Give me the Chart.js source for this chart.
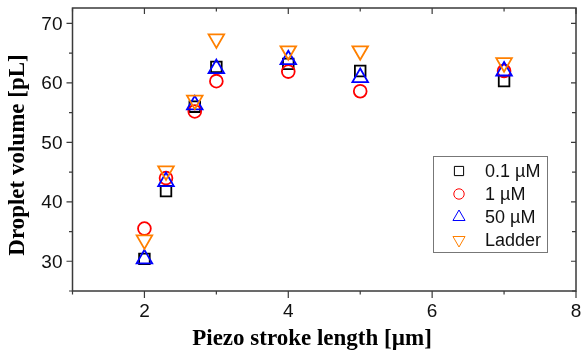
<!DOCTYPE html>
<html>
<head>
<meta charset="utf-8">
<script src="https://cdn.jsdelivr.net/npm/chart.js@4/dist/chart.umd.min.js"></script>
<style>
  html, body { margin: 0; padding: 0; background: #fff; }
  canvas { display: block; }
</style>
</head>
<body>
<canvas id="chart" width="582" height="352"></canvas>
<script>
// piezo stroke length [µm]
var strokeLength = [2, 2.3, 2.7, 3, 4, 5, 7];

var series01uM = [30.4, 41.8, 56.0, 62.7, 63.2, 62.0, 60.3];
var series1uM = [35.5, 44.0, 55.2, 60.3, 61.9, 58.6, 62.0];
var series50uM = [30.4, 43.4, 56.3, 62.4, 63.9, 60.9, 62.0];
var seriesLadder = [33.6, 45.2, 57.1, 67.4, 65.4, 65.4, 63.4];

var seriesNames = ["0.1 µM", "1 µM", "50 µM", "Ladder"];
var xTickValues = [2, 4, 6, 8];
var yTickValues = [30, 40, 50, 60, 70];

var toPoints = (ys) => ys.map((y, i) => ({ x: strokeLength[i], y: y }));

var frameColor = "#3a3a3a";
var tickFont = "19px 'Liberation Sans', Arial, sans-serif";

// frame with mirrored ticks and tick labels, like the Origin plot
const framePlugin = {
  id: "frame",
  beforeDatasetsDraw(chart) {
    const { ctx, chartArea: a, scales } = chart;
    const xs = scales.x;
    const ys = scales.y;
    ctx.save();
    ctx.strokeStyle = frameColor;
    ctx.lineWidth = 1.5;
    ctx.strokeRect(a.left, a.top, a.right - a.left, a.bottom - a.top);
    ctx.lineWidth = 1.2;
    ctx.beginPath();
    for (let v = 1; v <= 8; v++) {
      const px = xs.getPixelForValue(v);
      const major = v % 2 === 0;
      ctx.moveTo(px, a.bottom);
      ctx.lineTo(px, a.bottom + (major ? 7 : 3.5));
      ctx.moveTo(px, a.top);
      ctx.lineTo(px, a.top + (major ? 6 : 3.5));
    }
    for (let v = 25; v <= 70; v += 5) {
      const py = ys.getPixelForValue(v);
      const major = v % 10 === 0;
      ctx.moveTo(a.left, py);
      ctx.lineTo(a.left - (major ? 6 : 3.5), py);
      ctx.moveTo(a.right, py);
      ctx.lineTo(a.right - (major ? 5 : 4), py);
    }
    ctx.stroke();

    // tick labels
    ctx.fillStyle = "#111";
    ctx.font = tickFont;
    ctx.textBaseline = "middle";
    ctx.textAlign = "center";
    xTickValues.forEach((v) => {
      ctx.fillText(String(v), xs.getPixelForValue(v), a.bottom + 21);
    });
    ctx.textAlign = "right";
    yTickValues.forEach((v) => {
      ctx.fillText(String(v), a.left - 10, ys.getPixelForValue(v) + 1);
    });

    // axis titles
    ctx.fillStyle = "#000";
    ctx.font = "bold 23px 'Liberation Serif', 'Times New Roman', serif";
    ctx.textAlign = "center";
    ctx.fillText("Piezo stroke length [µm]", 312, 339);
    ctx.translate(18, 155);
    ctx.rotate(-Math.PI / 2);
    ctx.fillText("Droplet volume [pL]", 0, 0);
    ctx.restore();
  },
  afterDatasetsDraw(chart) {
    const { ctx, chartArea: a } = chart;
    const boxL = a.right - 143;
    const boxT = a.bottom - 135;
    const boxW = 114;
    const boxH = 96;
    ctx.save();
    ctx.fillStyle = "#fff";
    ctx.fillRect(boxL, boxT, boxW, boxH);
    ctx.strokeStyle = "#777";
    ctx.lineWidth = 1;
    ctx.strokeRect(boxL + 0.5, boxT + 0.5, boxW, boxH);
    ctx.font = "18px 'Liberation Sans', Arial, sans-serif";
    ctx.textAlign = "left";
    ctx.textBaseline = "middle";
    chart.data.datasets.forEach((ds, i) => {
      const cy = boxT + 15 + i * 23;
      const cx = boxL + 26;
      ctx.strokeStyle = ds.borderColor;
      ctx.fillStyle = "rgba(0,0,0,0)";
      Chart.helpers.drawPoint(ctx, {
        pointStyle: ds.pointStyle,
        rotation: ds.rotation || 0,
        radius: ds.legendRadius,
        borderWidth: 1.7,
      }, cx, cy);
      ctx.fillStyle = "#111";
      ctx.fillText(ds.label, boxL + 52, cy + 1);
    });
    ctx.restore();
  },
};

const ctx = document.getElementById("chart").getContext("2d");
const chart = new Chart(ctx, {
  type: "scatter",
  data: {
    datasets: [
      {
        label: seriesNames[0],
        data: toPoints(series01uM),
        pointStyle: "rect",
        pointRadius: 7.5,
        legendRadius: 6.5,
        borderColor: "#000000",
        order: 4,
      },
      {
        label: seriesNames[1],
        data: toPoints(series1uM),
        pointStyle: "circle",
        pointRadius: 6.4,
        legendRadius: 5.2,
        borderColor: "#ff0000",
        order: 3,
      },
      {
        label: seriesNames[2],
        data: toPoints(series50uM),
        pointStyle: "triangle",
        pointRadius: 9,
        legendRadius: 7,
        borderColor: "#0000ff",
        order: 2,
      },
      {
        label: seriesNames[3],
        data: toPoints(seriesLadder),
        pointStyle: "triangle",
        rotation: 180,
        pointRadius: 9,
        legendRadius: 7,
        borderColor: "#ff8000",
        order: 1,
      },
    ],
  },
  options: {
    responsive: false,
    animation: false,
    layout: { autoPadding: false, padding: { top: 8, right: 6, left: 0, bottom: 0 } },
    elements: {
      point: { backgroundColor: "rgba(0,0,0,0)", borderWidth: 1.8, hoverRadius: 8 },
    },
    plugins: {
      legend: { display: false },
      tooltip: { enabled: false },
    },
    scales: {
      x: {
        type: "linear",
        min: 1,
        max: 8,
        afterFit: (s) => { s.height = 61; },
        grid: { display: false, drawTicks: false },
        border: { display: false },
        ticks: { display: false },
      },
      y: {
        min: 25,
        max: 72.6,
        afterFit: (s) => { s.width = 72.5; },
        grid: { display: false, drawTicks: false },
        border: { display: false },
        ticks: { display: false },
      },
    },
  },
  plugins: [framePlugin],
});
</script>
</body>
</html>
